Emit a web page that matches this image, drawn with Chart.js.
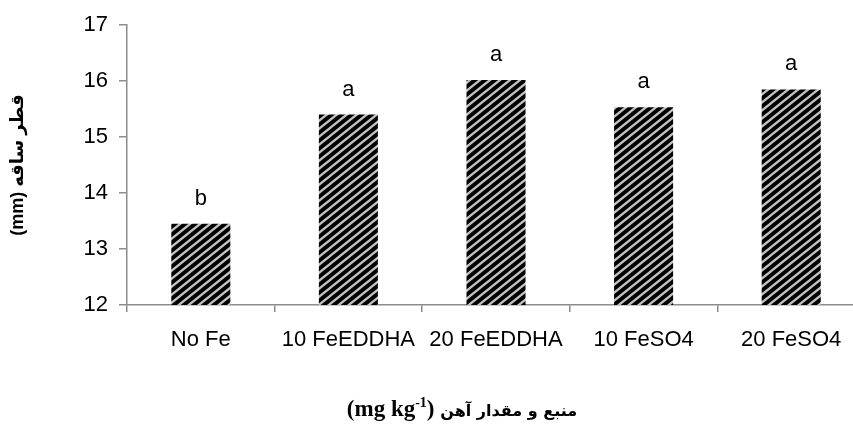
<!DOCTYPE html>
<html>
<head>
<meta charset="utf-8">
<script src="https://cdn.jsdelivr.net/npm/chart.js@4.4.1/dist/chart.umd.min.js"></script>
<style>
    html, body { margin: 0; padding: 0; background: #fff; overflow: hidden; }
    #wrap { width: 870px; height: 424px; }
</style>
</head>
<body>
<div id="wrap"><canvas id="stemChart"></canvas></div>
<script>
// داده‌ها
const categories = ['No Fe', '10 FeEDDHA', '20 FeEDDHA', '10 FeSO4', '20 FeSO4'];
const stemDiameter = [13.45, 15.40, 16.02, 15.53, 15.85];
const letters = ['b', 'a', 'a', 'a', 'a'];
const yTicks = [12, 13, 14, 15, 16, 17];

const axisGray = '#8c8c8c';
const tickFont = { family: "'Liberation Sans', 'DejaVu Sans'", size: 22 };

// هاشور مورب سیاه و خاکستری
function makeStripes() {
    const tile = document.createElement('canvas');
    tile.width = 10;
    tile.height = 8;
    const c = tile.getContext('2d');
    c.fillStyle = '#000';
    c.fillRect(0, 0, 10, 8);
    c.strokeStyle = '#c4c4c4';
    c.lineWidth = 2.3;
    for (let k = -1; k <= 1; k++) {
        c.beginPath();
        c.moveTo(-10, 16 + 8 * k);
        c.lineTo(20, -8 + 8 * k);
        c.stroke();
    }
    return c.createPattern(tile, 'repeat');
}

// حروف معنی‌داری بالای ستون‌ها
const letterPlugin = {
    id: 'letters',
    afterDatasetsDraw(chart) {
        const ctx = chart.ctx;
        const meta = chart.getDatasetMeta(0);
        ctx.save();
        ctx.font = tickFont.size + 'px ' + tickFont.family;
        ctx.fillStyle = '#000';
        ctx.textAlign = 'center';
        ctx.textBaseline = 'alphabetic';
        meta.data.forEach((bar, i) => {
            ctx.fillText(letters[i], bar.x, bar.y - 19);
        });
        ctx.restore();
    }
};

// عنوان محور افقی با توان بالانویس
const xTitlePlugin = {
    id: 'xTitle',
    afterDraw(chart) {
        const ctx = chart.ctx;
        const area = chart.chartArea;
        const serif = "bold 23px 'Liberation Serif', 'DejaVu Serif'";
        const sup = "bold 14px 'Liberation Serif', 'DejaVu Serif'";
        const arabic = "bold 16px 'DejaVu Sans'";
        const parts = [
            { t: '(mg kg', f: serif, dy: 0 },
            { t: '-1', f: sup, dy: -9 },
            { t: ') ', f: serif, dy: 0 },
            { t: 'منبع و مقدار آهن', f: arabic, dy: 0 }
        ];
        ctx.save();
        ctx.fillStyle = '#000';
        ctx.textBaseline = 'alphabetic';
        ctx.textAlign = 'left';
        let total = 0;
        parts.forEach(p => { ctx.font = p.f; p.w = ctx.measureText(p.t).width; total += p.w; });
        let x = (area.left + area.right) / 2 - 34 - total / 2;
        const y = 416;
        parts.forEach(p => {
            ctx.font = p.f;
            ctx.fillText(p.t, x, y + p.dy);
            x += p.w;
        });
        ctx.restore();
    }
};

function createChart() {
    const ctx = document.getElementById('stemChart').getContext('2d');
    new Chart(ctx, {
        type: 'bar',
        data: {
            labels: categories,
            datasets: [{
                data: stemDiameter,
                backgroundColor: makeStripes(),
                borderWidth: 0,
                categoryPercentage: 1,
                barPercentage: 0.4
            }]
        },
        options: {
            responsive: true,
            maintainAspectRatio: false,
            animation: false,
            layout: { padding: { top: 25, right: 5, left: 0, bottom: 0 } },
            plugins: {
                legend: { display: false },
                tooltip: { enabled: false }
            },
            scales: {
                x: {
                    afterFit: s => { s.height = 119; },
                    border: { display: true, color: axisGray, width: 1.5 },
                    grid: {
                        display: true,
                        offset: true,
                        drawOnChartArea: false,
                        color: axisGray,
                        lineWidth: 1.5,
                        tickLength: 7
                    },
                    ticks: { color: '#000', font: tickFont, padding: 15, maxRotation: 0, autoSkip: false }
                },
                y: {
                    min: yTicks[0],
                    max: yTicks[yTicks.length - 1],
                    afterFit: s => { s.width = 127; },
                    border: { display: true, color: axisGray, width: 1.5 },
                    grid: {
                        display: true,
                        drawOnChartArea: false,
                        color: axisGray,
                        lineWidth: 1.5,
                        tickLength: 8
                    },
                    ticks: { color: '#000', font: tickFont, padding: 11, stepSize: 1 },
                    title: {
                        display: true,
                        text: '(mm) قطر ساقه',
                        color: '#000',
                        font: { family: "'Liberation Sans', 'DejaVu Sans'", size: 18, weight: 'bold' },
                        padding: { top: 7, bottom: 0 }
                    }
                }
            }
        },
        plugins: [letterPlugin, xTitlePlugin]
    });
}

document.addEventListener('DOMContentLoaded', createChart);
</script>
</body>
</html>
